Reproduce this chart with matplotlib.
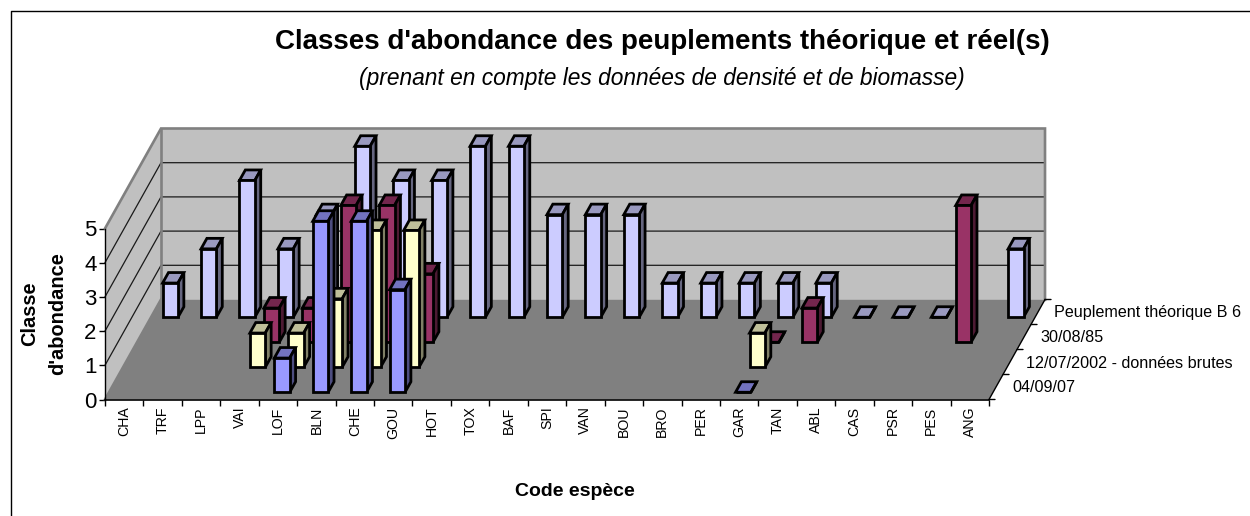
import matplotlib
matplotlib.use('Agg')
import matplotlib.pyplot as plt
from matplotlib.patches import Polygon
from matplotlib.lines import Line2D
import numpy as np

plt.rcParams['font.family'] = ['Liberation Sans', 'DejaVu Sans']

species = ['CHA', 'TRF', 'LPP', 'VAI', 'LOF', 'BLN', 'CHE', 'GOU', 'HOT', 'TOX', 'BAF', 'SPI',
           'VAN', 'BOU', 'BRO', 'PER', 'GAR', 'TAN', 'ABL', 'CAS', 'PSR', 'PES', 'ANG']
# front row first
series_names = ['04/09/07', '12/07/2002 - données brutes', '30/08/85', 'Peuplement théorique B 6']
n = np.nan
releve_07 = [n, n, n, n, 1, 5, 5, 3, n, n, n, n, n, n, n, n, 0, n, n, n, n, n, n]
releve_02 = [n, n, n, 1, 1, 2, 4, 4, n, n, n, n, n, n, n, n, 1, n, n, n, n, n, n]
releve_85 = [n, n, n, 1, 1, 4, 4, 2, n, n, n, n, n, n, n, n, 0, 1, n, n, n, 4, n]
theorique = [1, 2, 4, 2, 3, 5, 4, 4, 5, 5, 3, 3, 3, 1, 1, 1, 1, 1, 0, 0, 0, n, 2]
rows = [releve_07, releve_02, releve_85, theorique]
colors = ['#9999FF', '#FFFFCC', '#993366', '#CCCCFF']

# oblique projection: one row of depth shifts this much, in data units
DX = 14.0 / 38.43
DY = 25.0 / 34.2
BAR_W = 0.4
BAR_D = 0.42


def proj(x, y, d):
    return (x + d * DX, y + d * DY)


def darker(c, f):
    rgb = np.array(matplotlib.colors.to_rgb(c)) * f
    return tuple(rgb)


fig = plt.figure(figsize=(12.5, 5.16), dpi=100)
ax = fig.add_axes([105 / 1250, (516 - 399.5) / 516, 884 / 1250, 171 / 516])
ax.set_xlim(0, 23)
ax.set_ylim(0, 5)
ax.patch.set_visible(False)
for s in ax.spines.values():
    s.set_visible(False)
ax.spines['left'].set_visible(True)
ax.spines['bottom'].set_visible(True)
ax.spines['left'].set_linewidth(1.0)
ax.spines['bottom'].set_linewidth(1.2)

nrows = len(rows)
ncat = len(species)
ymax = 5


def add_poly(pts, **kw):
    ax.add_patch(Polygon(pts, closed=True, clip_on=False, **kw))


# walls and floor
add_poly([proj(0, 0, 0), proj(ncat, 0, 0), proj(ncat, 0, nrows), proj(0, 0, nrows)],
         facecolor='#808080', edgecolor='none', zorder=1)
add_poly([proj(0, 0, nrows), proj(ncat, 0, nrows), proj(ncat, ymax, nrows), proj(0, ymax, nrows)],
         facecolor='#C0C0C0', edgecolor='none', zorder=1)
add_poly([proj(0, 0, 0), proj(0, 0, nrows), proj(0, ymax, nrows), proj(0, ymax, 0)],
         facecolor='#C0C0C0', edgecolor='none', zorder=1)

# gridlines
for v in range(1, ymax):
    p0, p1, p2 = proj(0, v, 0), proj(0, v, nrows), proj(ncat, v, nrows)
    ax.add_line(Line2D([p0[0], p1[0], p2[0]], [p0[1], p1[1], p2[1]], color='#1a1a1a', lw=0.9,
                       clip_on=False, zorder=2))

# wall edges
edges = [
    [proj(0, ymax, 0), proj(0, ymax, nrows), proj(ncat, ymax, nrows), proj(ncat, 0, nrows)],
    [proj(0, 0, nrows), proj(0, ymax, nrows)],
    [proj(0, 0, 0), proj(0, 0, nrows)],
]
for e in edges:
    xs, ys = zip(*e)
    ax.add_line(Line2D(xs, ys, color='#808080', lw=1.9, clip_on=False, zorder=2,
                       solid_joinstyle='miter'))
p0, p1 = proj(0, 0, nrows), proj(ncat, 0, nrows)
ax.add_line(Line2D([p0[0], p1[0]], [p0[1], p1[1]], color='#808080', lw=1.0, clip_on=False, zorder=2))

# depth axis on the right
p0, p1 = proj(ncat, 0, 0), proj(ncat, 0, nrows)
ax.add_line(Line2D([p0[0], p1[0]], [p0[1], p1[1]], color='black', lw=1.0, clip_on=False, zorder=2))
for d in range(nrows + 1):
    p = proj(ncat, 0, d)
    ax.annotate('', xy=p, xytext=(6, 0), textcoords='offset pixels', annotation_clip=False,
                arrowprops=dict(arrowstyle='-', color='black', lw=1.0, shrinkA=0, shrinkB=0))
for d, name in enumerate(series_names):
    p = proj(ncat, 0, d + 0.5)
    ax.annotate(name, xy=p, xytext=(16, -1), textcoords='offset pixels', annotation_clip=False,
                fontsize=11.6, ha='left', va='center', color='black')

# bars, back row first so the front rows hide it
z = 3
for d in range(nrows - 1, -1, -1):
    col = colors[d]
    for i, v in enumerate(rows[d]):
        if np.isnan(v):
            continue
        x0 = i + 0.5 - BAR_W / 2
        x1 = i + 0.5 + BAR_W / 2
        d0 = d + 0.5 - BAR_D / 2
        d1 = d + 0.5 + BAR_D / 2
        style = dict(edgecolor='black', linewidth=2.0, joinstyle='miter', zorder=z)
        add_poly([proj(x0, v, d0), proj(x1, v, d0), proj(x1, v, d1), proj(x0, v, d1)],
                 facecolor=darker(col, 0.75), **style)
        add_poly([proj(x1, 0, d0), proj(x1, 0, d1), proj(x1, v, d1), proj(x1, v, d0)],
                 facecolor=darker(col, 0.5), **style)
        add_poly([proj(x0, 0, d0), proj(x1, 0, d0), proj(x1, v, d0), proj(x0, v, d0)],
                 facecolor=col, **style)
        z += 1

# axes ticks
ax.set_xticks(np.arange(ncat + 1))
ax.set_xticklabels([])
ax.set_xticks(np.arange(ncat) + 0.5, minor=True)
ax.set_xticklabels(species, minor=True, rotation=90, fontsize=10.2)
ax.tick_params(axis='x', which='major', length=4, width=1.0)
ax.tick_params(axis='x', which='minor', length=0, pad=5)
ax.set_yticks(range(ymax + 1))
ax.tick_params(axis='y', length=4, width=1.0, labelsize=16, pad=2)

fig.text(662 / 1250, 1 - 42 / 516, "Classes d'abondance des peuplements théorique et réel(s)",
         fontsize=20, fontweight='bold', ha='center', va='center')
fig.text(662 / 1250, 1 - 78 / 516, '(prenant en compte les données de densité et de biomasse)',
         fontsize=16.4, fontstyle='italic', ha='center', va='center')
fig.text(44 / 1250, 1 - 314 / 516, "Classe\nd'abondance", fontsize=14.4, fontweight='bold',
         rotation=90, ha='center', va='center', multialignment='center', linespacing=1.6)
fig.text(575 / 1250, 1 - 492 / 516, 'Code espèce', fontsize=14, fontweight='bold',
         ha='center', va='center')

# chart frame, cut off on the right and at the bottom
fig.add_artist(Line2D([10.5 / 1250, 10.5 / 1250, 1], [0, 1 - 10.5 / 516, 1 - 10.5 / 516],
                      color='black', lw=1.0))

fig.savefig('out.png', dpi=100)
